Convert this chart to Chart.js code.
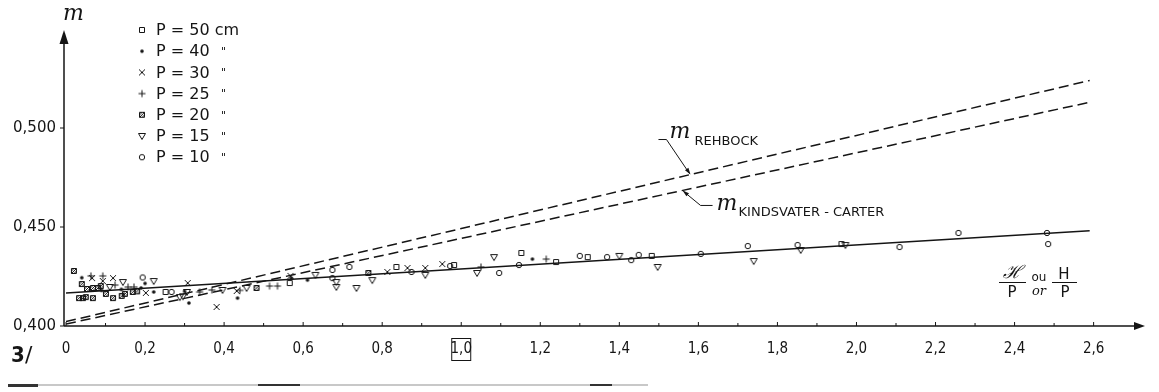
<!DOCTYPE html>
<html>
<head>
<meta charset="utf-8">
<script src="https://cdn.jsdelivr.net/npm/chart.js@4.4.0/dist/chart.umd.min.js"></script>
<style>
  html, body { margin: 0; padding: 0; background: #fff; }
  canvas { display: block; }
</style>
</head>
<body>
<canvas id="chart" width="1159" height="392"></canvas>
<script>
/* DATA : m against H/P */

// one array per weir height P, points are [H/P, m]
const p50 = [[0.252, 0.4172], [0.566, 0.4217], [0.836, 0.4298], [0.982, 0.4308], [1.152, 0.4369],
  [1.24, 0.4323], [1.32, 0.4348], [1.482, 0.4354], [1.962, 0.4414]];
const p40 = [[0.040, 0.4244], [0.09, 0.4180], [0.14, 0.4185], [0.19, 0.4192], [0.2, 0.4215],
  [0.222, 0.4172], [0.30, 0.4175], [0.311, 0.4116], [0.434, 0.4141], [0.57, 0.4242],
  [0.611, 0.4232], [1.18, 0.4338]];
const p30 = [[0.066, 0.4242], [0.093, 0.4227], [0.119, 0.4242], [0.202, 0.4167], [0.308, 0.4217],
  [0.381, 0.4096], [0.432, 0.4177], [0.568, 0.4253], [0.813, 0.4273], [0.864, 0.4293],
  [0.909, 0.4293], [0.952, 0.4313]];
const p25 = [[0.063, 0.4253], [0.093, 0.4253], [0.124, 0.4207], [0.157, 0.4197], [0.172, 0.4197],
  [0.338, 0.4172], [0.369, 0.4182], [0.44, 0.4180], [0.515, 0.4202], [0.535, 0.4202],
  [1.05, 0.4298], [1.215, 0.4338]];
const p20 = [[0.020, 0.4278], [0.033, 0.4141], [0.04, 0.4212], [0.043, 0.4141], [0.05, 0.4146],
  [0.053, 0.4187], [0.068, 0.4192], [0.068, 0.4141], [0.081, 0.4192], [0.088, 0.4202],
  [0.101, 0.4162], [0.119, 0.4141], [0.141, 0.4152], [0.149, 0.4162], [0.169, 0.4172],
  [0.18, 0.4175], [0.482, 0.4192], [0.765, 0.4268]];
const p15 = [[0.111, 0.4197], [0.144, 0.4222], [0.222, 0.4227], [0.288, 0.4146], [0.296, 0.4150],
  [0.306, 0.4172], [0.396, 0.4182], [0.457, 0.4192], [0.631, 0.4258], [0.684, 0.4222],
  [0.684, 0.4197], [0.735, 0.4192], [0.775, 0.4232], [0.909, 0.4258], [1.04, 0.4268],
  [1.083, 0.4348], [1.40, 0.4354], [1.497, 0.4298], [1.74, 0.4328], [1.859, 0.4384],
  [1.972, 0.4409]];
const p10 = [[0.194, 0.4245], [0.267, 0.4172], [0.674, 0.4283], [0.674, 0.4242], [0.717, 0.4298],
  [0.874, 0.4273], [0.972, 0.4303], [1.096, 0.4268], [1.146, 0.4308], [1.30, 0.4354],
  [1.369, 0.4348], [1.43, 0.4333], [1.449, 0.4359], [1.606, 0.4364], [1.725, 0.4404],
  [1.851, 0.4409], [2.109, 0.4399], [2.258, 0.4470], [2.482, 0.4470], [2.485, 0.4414]];

const seriesLabels = ['P = 50 cm', 'P = 40', 'P = 30', 'P = 25', 'P = 20', 'P = 15', 'P = 10'];
const seriesMarkers = ['square', 'dot', 'cross', 'plus', 'hatch', 'tri', 'circle'];

// fitted line and the two formulas
const fitX = [0, 2.59];
const fitM = [0.4167, 0.4481];
const rehbockX = [0, 2.59];
const rehbockM = [0.4022, 0.5240];
const kcX = [0, 2.59];
const kcM = [0.4010, 0.5130];

const INK = '#151515';

// small marker pictures, used for the points and for the key
function marker(kind) {
    const c = document.createElement('canvas');
    c.width = 10;
    c.height = 10;
    const g = c.getContext('2d');
    g.strokeStyle = INK;
    g.fillStyle = INK;
    g.lineWidth = 1;
    g.beginPath();
    if (kind == 'square') {
        g.rect(2.5, 2.5, 5, 5);
        g.stroke();
    } else if (kind == 'dot') {
        g.arc(5, 5, 1.8, 0, Math.PI * 2);
        g.fill();
    } else if (kind == 'cross') {
        g.moveTo(2, 2); g.lineTo(8, 8);
        g.moveTo(8, 2); g.lineTo(2, 8);
        g.stroke();
    } else if (kind == 'plus') {
        g.moveTo(5, 1.5); g.lineTo(5, 8.5);
        g.moveTo(1.5, 5); g.lineTo(8.5, 5);
        g.stroke();
    } else if (kind == 'hatch') {
        g.rect(2.5, 2.5, 5, 5);
        g.moveTo(2.5, 7.5); g.lineTo(7.5, 2.5);
        g.moveTo(2.5, 5); g.lineTo(5, 2.5);
        g.moveTo(5, 7.5); g.lineTo(7.5, 5);
        g.stroke();
    } else if (kind == 'tri') {
        g.moveTo(1.5, 2.5); g.lineTo(8.5, 2.5); g.lineTo(5, 8.5);
        g.closePath();
        g.stroke();
    } else {
        g.arc(5, 5, 2.7, 0, Math.PI * 2);
        g.stroke();
    }
    return c;
}

function pts(arr) {
    return arr.map(p => ({ x: p[0], y: p[1] }));
}

function pairs(xs, ys) {
    return xs.map((x, i) => ({ x: x, y: ys[i] }));
}

function lerp(xs, ys, x) {
    return ys[0] + (ys[1] - ys[0]) * (x - xs[0]) / (xs[1] - xs[0]);
}

function fmt(v, d) {
    return v.toFixed(d).replace('.', ',');
}

const series = [p50, p40, p30, p25, p20, p15, p10];
const datasets = series.map((s, i) => ({
    label: seriesLabels[i],
    data: pts(s),
    pointStyle: marker(seriesMarkers[i]),
    pointRadius: 5,
    showLine: false
}));

datasets.push({
    label: 'fit', data: pairs(fitX, fitM), showLine: true, pointRadius: 0,
    borderColor: INK, borderWidth: 1.5
});
datasets.push({
    label: 'Rehbock', data: pairs(rehbockX, rehbockM), showLine: true, pointRadius: 0,
    borderColor: INK, borderWidth: 1.5, borderDash: [10, 5]
});
datasets.push({
    label: 'Kindsvater-Carter', data: pairs(kcX, kcM), showLine: true, pointRadius: 0,
    borderColor: INK, borderWidth: 1.5, borderDash: [10, 5]
});

// axes with arrows, small ticks, the key and the notes
const decorations = {
    id: 'decorations',
    afterDraw(chart) {
        const ctx = chart.ctx;
        const xs = chart.scales.x;
        const ys = chart.scales.y;
        const a = chart.chartArea;
        const x0 = xs.getPixelForValue(0) - 2;
        const y0 = ys.getPixelForValue(0.4);

        ctx.save();
        ctx.strokeStyle = INK;
        ctx.fillStyle = INK;
        ctx.lineWidth = 1.5;

        // x axis + arrow
        ctx.beginPath();
        ctx.moveTo(x0, y0);
        ctx.lineTo(a.right - 8, y0);
        ctx.stroke();
        ctx.beginPath();
        ctx.moveTo(a.right, y0);
        ctx.lineTo(a.right - 11, y0 - 4);
        ctx.lineTo(a.right - 11, y0 + 4);
        ctx.closePath();
        ctx.fill();

        // y axis + arrow
        ctx.beginPath();
        ctx.moveTo(x0, y0);
        ctx.lineTo(x0, a.top + 10);
        ctx.stroke();
        ctx.beginPath();
        ctx.moveTo(x0, a.top);
        ctx.lineTo(x0 - 4.5, a.top + 14);
        ctx.lineTo(x0 + 4.5, a.top + 14);
        ctx.closePath();
        ctx.fill();

        // ticks
        ctx.lineWidth = 1;
        xs.ticks.forEach(t => {
            const v = t.value;
            if (v < -1e-6 || v > 2.65) return;
            const px = xs.getPixelForValue(v);
            const major = Math.abs(v * 5 - Math.round(v * 5)) < 1e-6;
            ctx.beginPath();
            ctx.moveTo(px, y0);
            ctx.lineTo(px, y0 - (major ? 4 : 3));
            ctx.stroke();
        });
        ys.ticks.forEach(t => {
            if (t.value > 0.52) return;
            const py = ys.getPixelForValue(t.value);
            ctx.beginPath();
            ctx.moveTo(x0 - 4, py);
            ctx.lineTo(x0, py);
            ctx.stroke();
        });

        // box round 1,0
        const bx = xs.getPixelForValue(1.0);
        ctx.strokeRect(bx - 9.5, y0 + 12.5, 19, 22);

        // y axis name
        ctx.font = 'italic 22px "DejaVu Serif"';
        ctx.textAlign = 'left';
        ctx.textBaseline = 'alphabetic';
        ctx.fillText('m', x0 - 1, 20);

        // key
        chart.data.datasets.slice(0, seriesLabels.length).forEach((d, i) => {
            const ry = 30 + i * 21.2;
            ctx.drawImage(d.pointStyle, 137, ry - 5);
            ctx.font = '16px "DejaVu Sans"';
            ctx.textBaseline = 'middle';
            ctx.fillText(d.label, 156, ry + 1);
            if (i > 0) {
                ctx.font = '11px "DejaVu Sans"';
                ctx.fillText('"', 221, ry + 1);
            }
        });

        // Rehbock note
        ctx.lineWidth = 1;
        ctx.textBaseline = 'alphabetic';
        const rx = 1.58;
        const rt = { x: xs.getPixelForValue(rx), y: ys.getPixelForValue(lerp(rehbockX, rehbockM, rx)) };
        ctx.beginPath();
        ctx.moveTo(rt.x - 32, rt.y - 35);
        ctx.lineTo(rt.x - 24, rt.y - 35);
        ctx.lineTo(rt.x - 1, rt.y - 1);
        ctx.stroke();
        arrowHead(ctx, rt.x - 24, rt.y - 35, rt.x, rt.y);
        ctx.font = 'italic 22px "DejaVu Serif"';
        ctx.fillText('m', rt.x - 21, rt.y - 37);
        ctx.font = '13px "DejaVu Sans"';
        ctx.fillText('REHBOCK', rt.x + 4, rt.y - 30);

        // Kindsvater-Carter note
        const kx = 1.56;
        const kt = { x: xs.getPixelForValue(kx), y: ys.getPixelForValue(lerp(kcX, kcM, kx)) };
        ctx.beginPath();
        ctx.moveTo(kt.x + 1, kt.y + 1);
        ctx.lineTo(kt.x + 18, kt.y + 15);
        ctx.lineTo(kt.x + 30, kt.y + 15);
        ctx.stroke();
        arrowHead(ctx, kt.x + 18, kt.y + 15, kt.x, kt.y);
        ctx.font = 'italic 22px "DejaVu Serif"';
        ctx.fillText('m', kt.x + 34, kt.y + 20);
        ctx.font = '13px "DejaVu Sans"';
        ctx.fillText('KINDSVATER - CARTER', kt.x + 56, kt.y + 26);

        // x axis name: H/P ou/or H/P
        const fx = a.right - 146;
        ctx.textAlign = 'center';
        ctx.font = 'italic 18px "DejaVu Serif"';
        ctx.fillText('\u210B', fx + 13, y0 - 48);
        ctx.font = '15px "DejaVu Sans"';
        ctx.fillText('P', fx + 13, y0 - 29);
        ctx.fillText('H', fx + 65, y0 - 47);
        ctx.fillText('P', fx + 66, y0 - 29);
        ctx.beginPath();
        ctx.moveTo(fx, y0 - 43.5); ctx.lineTo(fx + 27, y0 - 43.5);
        ctx.moveTo(fx + 53, y0 - 43.5); ctx.lineTo(fx + 78, y0 - 43.5);
        ctx.stroke();
        ctx.font = '12px "DejaVu Sans"';
        ctx.fillText('ou', fx + 40, y0 - 45);
        ctx.font = 'italic 13px "DejaVu Serif"';
        ctx.fillText('or', fx + 40, y0 - 31);

        // figure number and page edge
        ctx.textAlign = 'left';
        ctx.font = 'bold 22px "DejaVu Sans Condensed", "DejaVu Sans"';
        ctx.fillText('3', 11, 362);
        ctx.font = '22px "DejaVu Sans"';
        ctx.fillText('/', 25, 362);
        ctx.fillStyle = '#c8c8c8';
        ctx.fillRect(8, 384, 640, 2);
        ctx.fillStyle = '#333';
        ctx.fillRect(8, 384, 30, 3);
        ctx.fillRect(258, 384, 42, 2);
        ctx.fillRect(590, 384, 22, 2);
        ctx.restore();
    }
};

function arrowHead(ctx, fx, fy, tx, ty) {
    const ang = Math.atan2(ty - fy, tx - fx);
    const len = 7;
    ctx.beginPath();
    ctx.moveTo(tx, ty);
    ctx.lineTo(tx - len * Math.cos(ang - 0.3), ty - len * Math.sin(ang - 0.3));
    ctx.lineTo(tx - len * Math.cos(ang + 0.3), ty - len * Math.sin(ang + 0.3));
    ctx.closePath();
    ctx.fill();
}

new Chart(document.getElementById('chart'), {
    type: 'scatter',
    data: { datasets: datasets },
    plugins: [decorations],
    options: {
        responsive: false,
        devicePixelRatio: 1,
        animation: false,
        layout: { padding: { top: 30, right: 9, left: 0, bottom: 0 } },
        plugins: {
            legend: { display: false },
            tooltip: { enabled: false }
        },
        scales: {
            x: {
                type: 'linear',
                min: 0,
                max: 2.73,
                grid: { display: false, drawTicks: false },
                border: { display: false },
                afterFit: s => { s.height = 66; },
                ticks: {
                    stepSize: 0.1,
                    autoSkip: false,
                    maxRotation: 0,
                    padding: 14,
                    color: INK,
                    font: { family: '"Liberation Sans Narrow", "DejaVu Sans Condensed", sans-serif', size: 15 },
                    callback: v => {
                        if (v < -1e-6 || v > 2.65) return '';
                        if (Math.abs(v * 5 - Math.round(v * 5)) > 1e-6) return '';
                        return Math.abs(v) < 1e-6 ? '0' : fmt(v, 1);
                    }
                }
            },
            y: {
                type: 'linear',
                min: 0.4,
                max: 0.5495,
                grid: { display: false, drawTicks: false },
                border: { display: false },
                afterFit: s => { s.width = 66; },
                ticks: {
                    stepSize: 0.05,
                    padding: 10,
                    color: INK,
                    font: { family: '"DejaVu Sans"', size: 15 },
                    callback: v => (v > 0.52 ? '' : fmt(v, 3))
                }
            }
        }
    }
});
</script>
</body>
</html>
